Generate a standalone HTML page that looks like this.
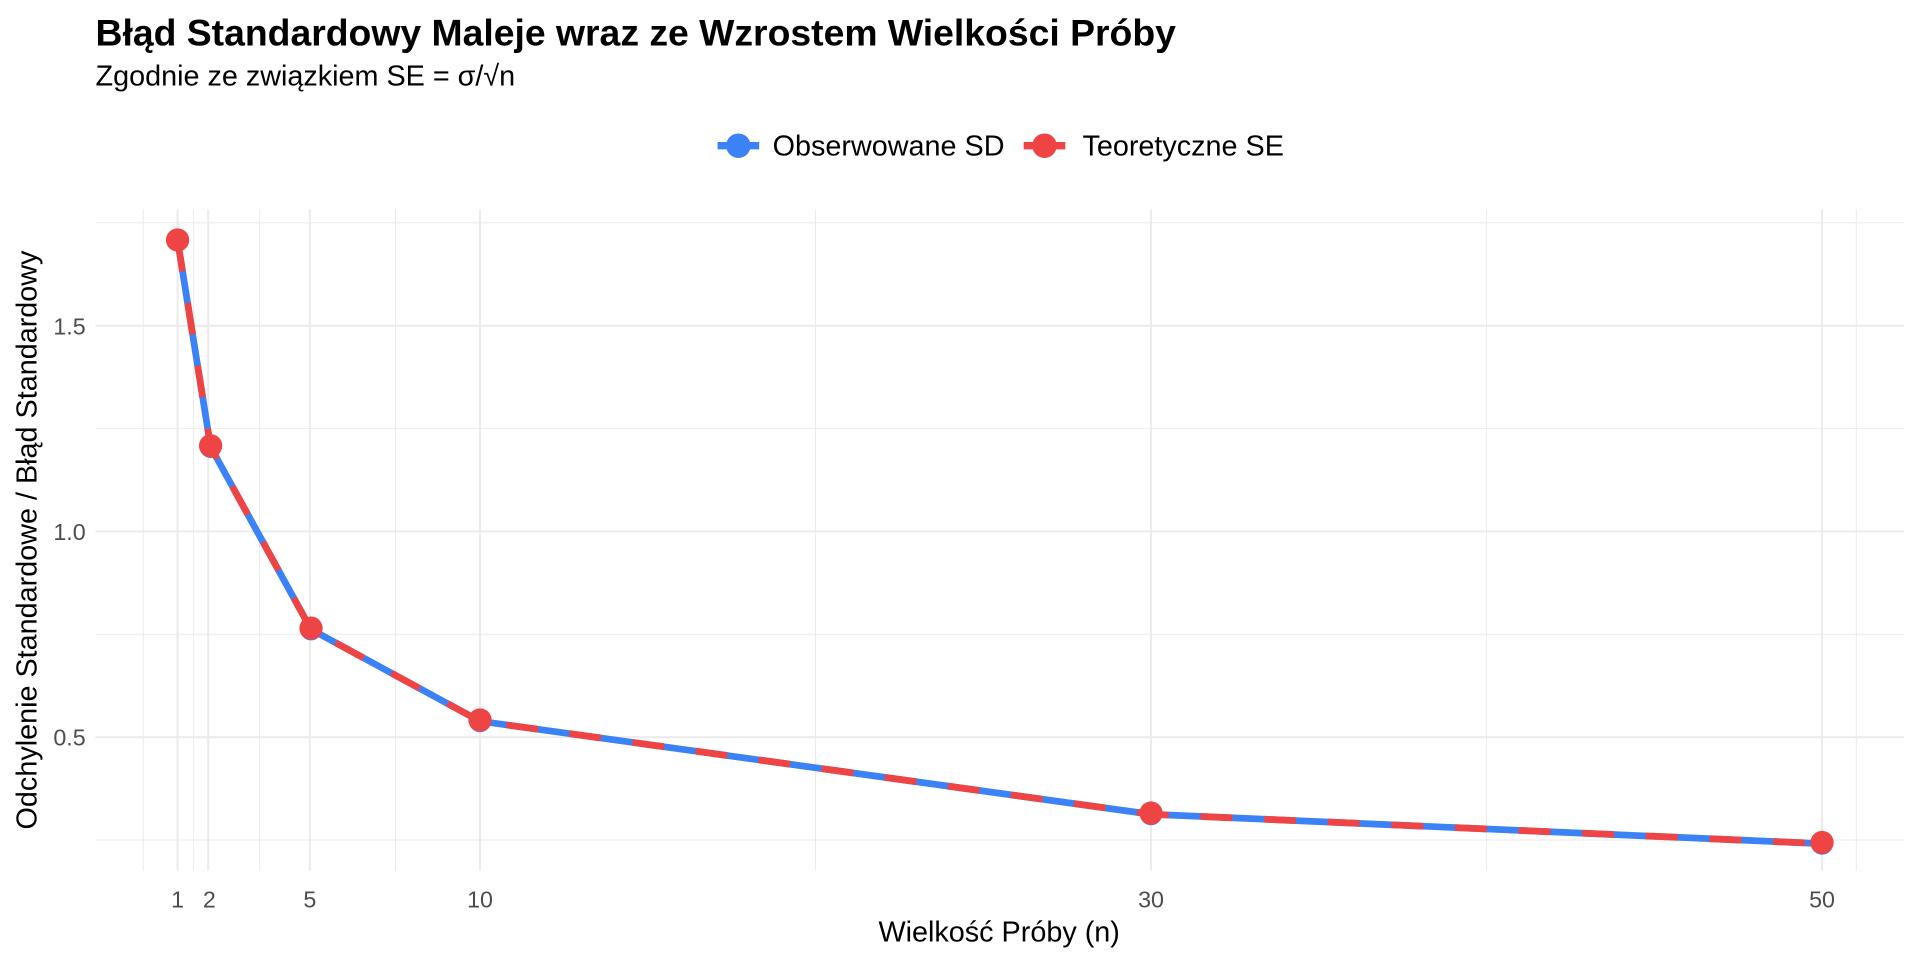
<!DOCTYPE html>
<html><head><meta charset="utf-8"><style>html,body{margin:0;padding:0;background:#fff}svg{display:block}</style></head>
<body>
<svg width="1920" height="960" viewBox="0 0 1568 784" xmlns="http://www.w3.org/2000/svg" font-family="Liberation Sans, Arial, sans-serif">
<rect width="1568" height="784" fill="#fff"/>
<text x="78" y="37" font-size="30.5" font-weight="bold" fill="#000">Błąd Standardowy Maleje wraz ze Wzrostem Wielkości Próby</text>
<text x="78" y="70" font-size="23.5" fill="#000">Zgodnie ze związkiem SE = σ/√n</text>
<!-- legend -->
<line x1="586" y1="119" x2="620" y2="119" stroke="#3b82f6" stroke-width="6"/>
<circle cx="603" cy="119" r="10" fill="#3b82f6"/>
<text x="631" y="127" font-size="23.5" fill="#000">Obserwowane SD</text>
<line x1="836" y1="119" x2="870" y2="119" stroke="#ef4444" stroke-width="6"/>
<circle cx="853" cy="119" r="10" fill="#ef4444"/>
<text x="884" y="127" font-size="23.5" fill="#000">Teoretyczne SE</text>
<!-- grid minor -->
<g stroke="#ebebeb" stroke-width="0.8">
<line x1="78" y1="182" x2="1555" y2="182"/><line x1="78" y1="350" x2="1555" y2="350"/><line x1="78" y1="518" x2="1555" y2="518"/><line x1="78" y1="686" x2="1555" y2="686"/>
<line x1="117" y1="171" x2="117" y2="711"/><line x1="158" y1="171" x2="158" y2="711"/><line x1="212" y1="171" x2="212" y2="711"/><line x1="323" y1="171" x2="323" y2="711"/><line x1="666" y1="171" x2="666" y2="711"/><line x1="1214" y1="171" x2="1214" y2="711"/><line x1="1516" y1="171" x2="1516" y2="711"/>
</g>
<g stroke="#ebebeb" stroke-width="1.6">
<line x1="78" y1="266" x2="1555" y2="266"/><line x1="78" y1="434" x2="1555" y2="434"/><line x1="78" y1="602" x2="1555" y2="602"/>
<line x1="145" y1="171" x2="145" y2="711"/><line x1="170" y1="171" x2="170" y2="711"/><line x1="253" y1="171" x2="253" y2="711"/><line x1="392" y1="171" x2="392" y2="711"/><line x1="940" y1="171" x2="940" y2="711"/><line x1="1488" y1="171" x2="1488" y2="711"/>
</g>
<!-- series -->
<polyline points="145,196 172,365 254,514 392,589 940,665 1488,689" fill="none" stroke="#3b82f6" stroke-width="5.5" stroke-linejoin="round"/>
<g fill="#3b82f6"><circle cx="145" cy="196" r="9"/><circle cx="172" cy="365" r="9"/><circle cx="254" cy="514" r="9"/><circle cx="392" cy="589" r="9"/><circle cx="940" cy="665" r="9"/><circle cx="1488" cy="689" r="9"/></g>
<polyline points="145,196 172,365 254,514 392,589 940,665 1488,689" fill="none" stroke="#ef4444" stroke-width="5.5" stroke-dasharray="26,26"/>
<g fill="#ef4444"><circle cx="145" cy="196" r="9.5"/><circle cx="172" cy="364" r="9.5"/><circle cx="254" cy="513" r="9.5"/><circle cx="392" cy="588" r="9.5"/><circle cx="940" cy="664" r="9.5"/><circle cx="1488" cy="688" r="9.5"/></g>
<!-- ticks -->
<g font-size="19" fill="#4d4d4d" text-anchor="end">
<text x="70" y="273">1.5</text><text x="70" y="441">1.0</text><text x="70" y="609">0.5</text>
</g>
<g font-size="19" fill="#4d4d4d" text-anchor="middle">
<text x="145" y="741">1</text><text x="171" y="741">2</text><text x="253" y="741">5</text><text x="392" y="741">10</text><text x="940" y="741">30</text><text x="1488" y="741">50</text>
</g>
<text x="816" y="769" font-size="23.5" text-anchor="middle" fill="#000">Wielkość Próby (n)</text>
<text transform="translate(30,441) rotate(-90)" font-size="23.5" text-anchor="middle" fill="#000">Odchylenie Standardowe / Błąd Standardowy</text>
</svg>
</body></html>
